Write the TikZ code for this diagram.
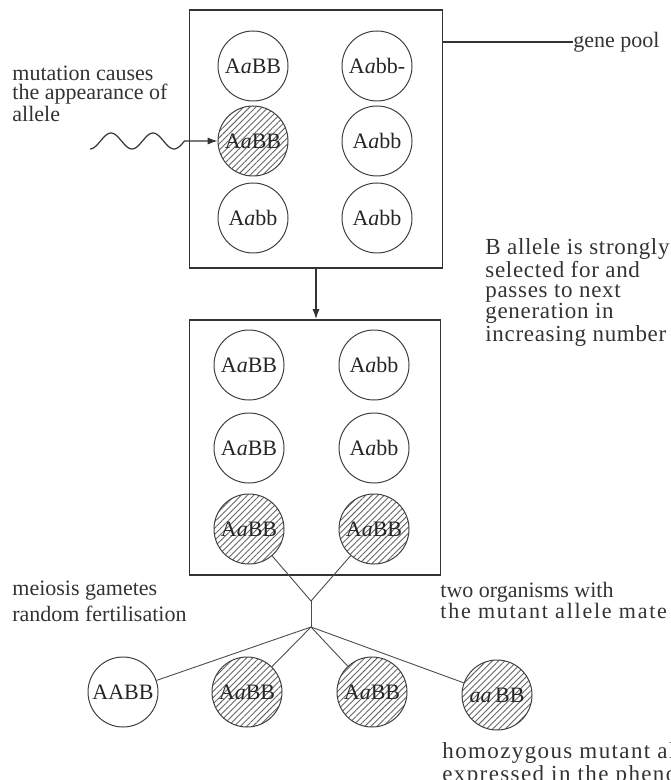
\documentclass[tikz,border=0pt]{standalone}
\usepackage{fontspec}
\setmainfont{Liberation Serif}
\usetikzlibrary{arrows.meta,patterns.meta}
\tikzset{>={Latex[length=5pt,width=3.6pt]}}

\begin{document}
\begin{tikzpicture}[x=.5pt, y=-.5pt,
    geno/.style={circle, draw=black!75, line width=.5pt, minimum size=35pt,
      inner sep=0pt, text=black!85, font=\fontsize{11}{12}\selectfont},
    mutant/.style={geno, pattern={Lines[angle=45,distance=2.2pt,line width=.45pt]},
      pattern color=black!60},
    pen/.style={draw=black!80, line width=.8pt},
    note/.style={anchor=north west, align=left, inner sep=0pt, text=black!80,
      font=\fontsize{11}{10.2}\selectfont}]
  \useasboundingbox (0,0) rectangle (670,780);

  % boxes
  \node[pen, minimum width=126.5pt, minimum height=129pt] (pool) at (316,139) {};
  \node[pen, minimum width=125.5pt, minimum height=127.5pt] (next) at (315,447.5) {};

  % gene pool
  \node[geno] (p1) at (253,66) {A\textit{a}BB};
  \node[geno] (p2) at (377,66) {A\textit{a}bb-};
  \node[mutant] (p3) at (253,141) {A\textit{a}BB};
  \node[geno] (p4) at (377,141) {A\textit{a}bb};
  \node[geno] (p5) at (253,218) {A\textit{a}bb};
  \node[geno] (p6) at (377,218) {A\textit{a}bb};

  % next generation
  \node[geno] (n1) at (249,365) {A\textit{a}BB};
  \node[geno] (n2) at (374,365) {A\textit{a}bb};
  \node[geno] (n3) at (249,448) {A\textit{a}BB};
  \node[geno] (n4) at (374,448) {A\textit{a}bb};
  \node[mutant] (n5) at (249,529) {A\textit{a}BB};
  \node[mutant] (n6) at (374,529) {A\textit{a}BB};

  % offspring
  \node[geno] (o1) at (123,692) {AABB};
  \node[mutant] (o2) at (247,692) {A\textit{a}BB};
  \node[mutant] (o3) at (372,692) {A\textit{a}BB};
  \node[mutant] (o4) at (497,695) {\textit{aa}\,BB};

  % mutation
  \draw[->, black!80, line width=.6pt] plot[domain=90:184.5, samples=60, smooth]
    (\x, {141+8*cos((\x-90)/42*360)}) -- (p3.west);
  \draw[->, pen] (pool.south) -- (pool.south |- next.north);

  % mating and fertilisation
  \coordinate (join) at (311,601);
  \coordinate (fork) at (311,627);
  \draw[black!70, line width=.45pt] (n5) -- (join) -- (n6);
  \draw[black!70, line width=.45pt] (join) -- (fork);
  \foreach \o in {o1,o2,o3,o4}
    \draw[black!70, line width=.45pt] (fork) -- (\o);

  % labels
  \node[note, anchor=west] (gp) at (573,42) {gene pool};
  \draw[black!80, line width=.6pt] (gp.west -| pool.east) -- (gp.west);
  \node[note, font=\fontsize{11}{9.5}\selectfont] (mut) at (12,66)
    {mutation causes\\the appearance of\\allele};
  \node[note, font=\fontsize{11.5}{10.2}\selectfont\addfontfeature{LetterSpace=3}]
    (sel) at (485,238)
    {B allele is strongly\\selected for and\\passes to next\\generation in\\increasing number};
  \node[note, font=\fontsize{11}{13}\selectfont] (mei) at (12,581)
    {meiosis gametes\\random fertilisation};
  \node[note] (two) at (440,582)
    {two organisms with\\\addfontfeature{LetterSpace=8}the mutant allele mate};
  \node[note, font=\fontsize{11.5}{9.6}\selectfont\addfontfeature{LetterSpace=6}]
    (hom) at (442,742)
    {homozygous mutant allele\\expressed in the phenotype};
\end{tikzpicture}
\end{document}
